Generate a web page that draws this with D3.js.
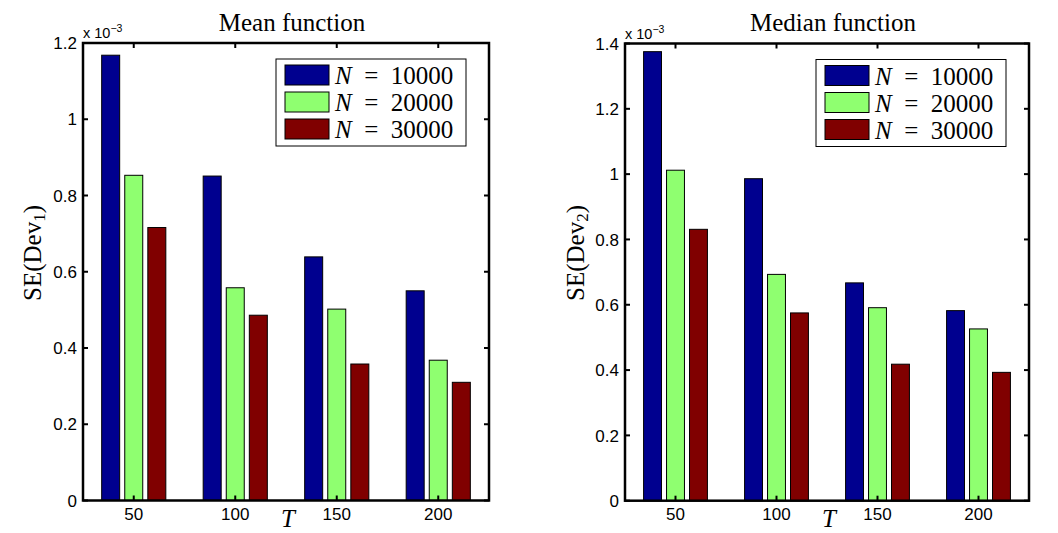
<!DOCTYPE html>
<html lang="en">
  <head>
    <meta charset="utf-8" />
    <title>SE of Dev: mean and median function</title>
    <script src="https://d3js.org/d3.v7.min.js"></script>
    <style>
      body {
        margin: 0;
        background-color: #fff;
      }
      .tick-label {
        font-family: "Liberation Sans", Helvetica, Arial, sans-serif;
        font-size: 17px;
        fill: #000;
      }
      .serif {
        font-family: "Liberation Serif", "Times New Roman", serif;
        fill: #000;
      }
    </style>
  </head>
  <body>
    <div id="chart"></div>
    <script>
      // data (values in units of 1e-3)
      const T = [50, 100, 150, 200];
      const seriesLabels = ["10000", "20000", "30000"];
      const seriesColors = ["#00008f", "#8fff70", "#800000"];

      const meanN10000 = [1.168, 0.851, 0.639, 0.55];
      const meanN20000 = [0.853, 0.558, 0.502, 0.368];
      const meanN30000 = [0.716, 0.486, 0.358, 0.31];

      const medianN10000 = [1.375, 0.986, 0.667, 0.582];
      const medianN20000 = [1.012, 0.693, 0.591, 0.526];
      const medianN30000 = [0.831, 0.575, 0.418, 0.393];

      const meanTicks = [0, 0.2, 0.4, 0.6, 0.8, 1, 1.2];
      const medianTicks = [0, 0.2, 0.4, 0.6, 0.8, 1, 1.2, 1.4];

      const panels = [
        {
          title: "Mean function",
          sub: "1",
          series: [meanN10000, meanN20000, meanN30000],
          ticks: meanTicks,
          box: { left: 83, right: 489, top: 43, bottom: 500.5 },
          ylabX: 33,
        },
        {
          title: "Median function",
          sub: "2",
          series: [medianN10000, medianN20000, medianN30000],
          ticks: medianTicks,
          box: { left: 625, right: 1029, top: 43.5, bottom: 500.7 },
          ylabX: 576,
        },
      ];

      const width = 1058;
      const height = 533;

      const svg = d3
        .select("#chart")
        .append("svg")
        .attr("width", width)
        .attr("height", height);

      function drawPanel(p) {
        const b = p.box;
        const g = svg.append("g");

        const x = d3.scaleLinear().domain([25, 225]).range([b.left, b.right]);
        const y = d3
          .scaleLinear()
          .domain([0, d3.max(p.ticks)])
          .range([b.bottom, b.top]);

        // grouped bars, MATLAB style
        const groupWidth = 31.6; // in T units
        const inner = d3
          .scaleBand()
          .domain(d3.range(p.series.length))
          .range([-groupWidth / 2, groupWidth / 2])
          .paddingInner(0.22);

        p.series.forEach((vals, si) => {
          g.append("g")
            .selectAll("rect")
            .data(vals)
            .enter()
            .append("rect")
            .attr("x", (d, i) => x(T[i] + inner(si)))
            .attr("width", (d, i) => x(T[i] + inner(si) + inner.bandwidth()) - x(T[i] + inner(si)))
            .attr("y", (d) => y(d))
            .attr("height", (d) => y(0) - y(d))
            .attr("fill", seriesColors[si])
            .attr("stroke", "#000")
            .attr("stroke-width", 1);
        });

        // ticks pointing inwards on all four sides
        const tl = 5;
        g.append("g")
          .selectAll("line")
          .data(p.ticks)
          .enter()
          .append("line")
          .attr("x1", b.left)
          .attr("x2", b.left + tl)
          .attr("y1", (d) => y(d))
          .attr("y2", (d) => y(d))
          .attr("stroke", "#000")
          .attr("stroke-width", 2);
        g.append("g")
          .selectAll("line")
          .data(p.ticks)
          .enter()
          .append("line")
          .attr("x1", b.right)
          .attr("x2", b.right - tl)
          .attr("y1", (d) => y(d))
          .attr("y2", (d) => y(d))
          .attr("stroke", "#000")
          .attr("stroke-width", 2);
        g.append("g")
          .selectAll("line")
          .data(T)
          .enter()
          .append("line")
          .attr("x1", (d) => x(d))
          .attr("x2", (d) => x(d))
          .attr("y1", b.bottom)
          .attr("y2", b.bottom - tl)
          .attr("stroke", "#000")
          .attr("stroke-width", 2);
        g.append("g")
          .selectAll("line")
          .data(T)
          .enter()
          .append("line")
          .attr("x1", (d) => x(d))
          .attr("x2", (d) => x(d))
          .attr("y1", b.top)
          .attr("y2", b.top + tl)
          .attr("stroke", "#000")
          .attr("stroke-width", 2);

        // axes box
        g.append("rect")
          .attr("x", b.left)
          .attr("y", b.top)
          .attr("width", b.right - b.left)
          .attr("height", b.bottom - b.top)
          .attr("fill", "none")
          .attr("stroke", "#000")
          .attr("stroke-width", 2.5);

        // tick labels
        g.append("g")
          .selectAll("text")
          .data(p.ticks)
          .enter()
          .append("text")
          .attr("class", "tick-label")
          .attr("x", b.left - 6)
          .attr("y", (d) => y(d))
          .attr("dy", "0.36em")
          .attr("text-anchor", "end")
          .text((d) => d3.format("~g")(d));
        g.append("g")
          .selectAll("text")
          .data(T)
          .enter()
          .append("text")
          .attr("class", "tick-label")
          .attr("x", (d) => x(d))
          .attr("y", b.bottom + 19)
          .attr("text-anchor", "middle")
          .text((d) => d);

        // exponent label
        const ex = g
          .append("text")
          .attr("class", "tick-label")
          .attr("x", b.left)
          .attr("y", b.top - 5)
          .style("font-size", "14.5px");
        ex.append("tspan").text("x 10");
        ex.append("tspan")
          .attr("dy", -6)
          .style("font-size", "10.5px")
          .text("\u22123");

        // title
        g.append("text")
          .attr("class", "serif")
          .attr("x", (b.left + b.right) / 2 + 6)
          .attr("y", 31)
          .attr("text-anchor", "middle")
          .style("font-size", "25px")
          .text(p.title);

        // x label
        g.append("text")
          .attr("class", "serif")
          .attr("x", (b.left + b.right) / 2 + 2)
          .attr("y", 527)
          .attr("text-anchor", "middle")
          .style("font-size", "25px")
          .style("font-style", "italic")
          .text("T");

        // y label
        const yl = g
          .append("text")
          .attr("class", "serif")
          .attr("transform", `translate(${p.ylabX + 8},253) rotate(-90)`)
          .attr("text-anchor", "middle")
          .style("font-size", "25px");
        yl.append("tspan").text("SE(Dev");
        yl.append("tspan")
          .attr("dy", 4)
          .style("font-size", "17px")
          .text(p.sub);
        yl.append("tspan").attr("dy", -4).text(")");

        // legend
        const lx = b.right - 23 - 190;
        const ly = b.top + 16;
        const leg = g.append("g").attr("transform", `translate(${lx},${ly})`);
        leg.append("rect")
          .attr("width", 190)
          .attr("height", 87)
          .attr("fill", "#fff")
          .attr("stroke", "#000")
          .attr("stroke-width", 1);
        seriesLabels.forEach((lab, i) => {
          const ry = 6 + i * 27;
          leg.append("rect")
            .attr("x", 9)
            .attr("y", ry)
            .attr("width", 44)
            .attr("height", 20)
            .attr("fill", seriesColors[i])
            .attr("stroke", "#000")
            .attr("stroke-width", 1);
          const t = leg
            .append("text")
            .attr("class", "serif")
            .attr("x", 59)
            .attr("y", ry + 19)
            .style("font-size", "25px");
          t.append("tspan").style("font-style", "italic").text("N");
          t.append("tspan").text("\u2002=\u2002" + lab);
        });
      }

      panels.forEach(drawPanel);
    </script>
  </body>
</html>
